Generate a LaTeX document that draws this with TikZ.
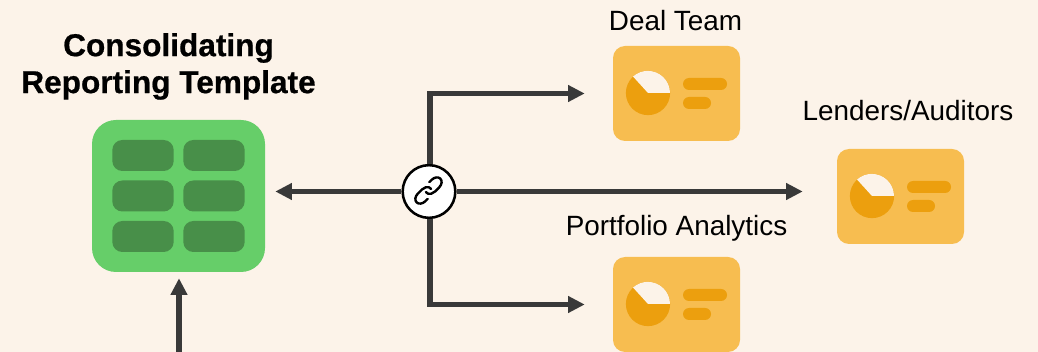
\documentclass[tikz,border=0pt]{standalone}
\usepackage{fontspec}
\setmainfont{Liberation Sans}
\newfontfamily\ttlfont[BoldFeatures={FakeBold=0.6}]{Liberation Sans}
\usetikzlibrary{arrows.meta,svg.path}
\definecolor{bgc}{HTML}{FCF3E9}
\definecolor{greenc}{HTML}{66CE69}
\definecolor{greend}{HTML}{488F49}
\definecolor{cardc}{HTML}{F7BD50}
\definecolor{cardd}{HTML}{EC9F0E}
\definecolor{linec}{HTML}{393939}
\tikzset{
 x=0.75pt,y=-0.75pt,
 panel/.style={fill=greenc,rounded corners=18pt,minimum width=129.75pt,minimum height=114pt,inner sep=0pt,draw=none},
 cell/.style={fill=greend,rounded corners=7.5pt,minimum width=46pt,minimum height=23.25pt,inner sep=0pt},
 cardbox/.style={fill=cardc,rounded corners=9pt,minimum width=95.25pt,minimum height=71.25pt,inner sep=0pt},
 barshape/.style={fill=cardd,rounded corners=4.5pt,inner sep=0pt,minimum height=9pt},
 conn/.style={draw=linec,line width=4.1pt,-{Triangle[length=12.5pt,width=12pt]}},
 hubnode/.style={circle,fill=white,draw=black,line width=1.9pt,minimum size=39.5pt,inner sep=0pt},
 lab/.style={font=\fontsize{20.9}{22}\selectfont,text=black,inner sep=0pt,anchor=center},
 ttl/.style={font=\ttlfont\fontsize{23.7}{27.7}\fontseries{b}\selectfont,text=black,inner sep=0pt,align=center},
 linkicon/.style={cm={.925,.125,.125,.925,(428.5,190.5)},yscale=-1,xshift=-12pt,yshift=-12pt,draw=black,line width=1.8pt,line cap=round,line join=round}
}
\newcommand{\cardat}[3]{%
 \node[cardbox] (#3) at (#1,#2) {};
 \fill[cardd] (#1-28.5,#2-0.5) circle[radius=16.6pt];
 \fill[bgc] (#1-28.5,#2-0.5) -- ++(22,0) arc[start angle=0,end angle=132,radius=16.6pt] -- cycle;
 \node[barshape,minimum width=33pt] (#3a) at (#1+28.5,#2-9.5) {};
 \node[barshape,minimum width=21pt] (#3b) at (#1+20.5,#2+9.5) {};
}
\begin{document}
\begin{tikzpicture}
\useasboundingbox[fill=bgc] (0,0) rectangle (1038,352);
\node[panel] (tpl) at (178.5,196) {};
\foreach \cx/\n in {143/l,214/r}{
 \foreach \cy/\m in {155.5/a,196/b,236.5/c}{
  \node[cell] (c\n\m) at (\cx,\cy) {};
 }
}
\node[ttl] (title) at (168.5,66.5) {Consolidating\\Reporting Template};
\cardat{676.5}{93.5}{deal}
\cardat{900.5}{196.5}{lend}
\cardat{676.5}{304.5}{port}
\node[lab] (dealt) at (675.5,21) {Deal Team};
\node[lab] (lendt) at (908,111) {Lenders/Auditors};
\node[lab] (portt) at (676.5,228.5) {Portfolio Analytics};
\node[hubnode] (hub) at (429,191.5) {};
\coordinate (src) at (179,352);
\draw[conn,shorten >=7.5pt] (hub) -- (tpl.east |- hub);
\draw[conn,shorten >=25.5pt] (hub) -- (lend.west |- hub);
\draw[conn,shorten >=21pt] ([xshift=0.75pt]hub.north) |- (deal.west);
\draw[conn,shorten >=21pt] ([xshift=0.75pt]hub.south) |- (port.west);
\draw[conn,shorten >=4.5pt] (src) -- (tpl.south -| src);
\draw[linkicon] svg "M 10 13 a 5 5 0 0 0 7.54 0.54 l 3 -3 a 5 5 0 0 0 -7.07 -7.07 l -1.72 1.71";
\draw[linkicon] svg "M 14 11 a 5 5 0 0 0 -7.54 -0.54 l -3 3 a 5 5 0 0 0 7.07 7.07 l 1.71 -1.71";
\end{tikzpicture}
\end{document}
